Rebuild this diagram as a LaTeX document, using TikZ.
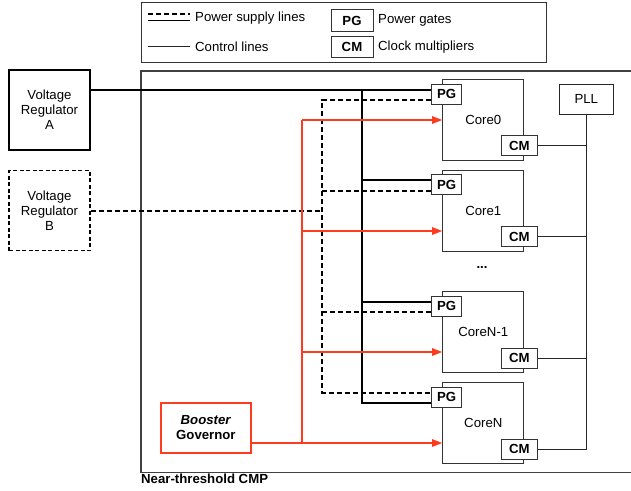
\documentclass[tikz,border=0pt]{standalone}
\usepackage{fontspec}
\setmainfont{Liberation Sans}
\usetikzlibrary{arrows.meta}
\definecolor{govred}{RGB}{255,59,31}
\tikzset{
  every node/.style={font=\fontsize{13.2}{15}\selectfont},
  pwr/.style={line width=1.9pt,black},
  pwrdash/.style={line width=1.9pt,black,dash pattern=on 5pt off 3pt},
  ctrl/.style={line width=0.8pt,black!85},
  redline/.style={line width=1.1pt,color=govred,draw=govred},
  redarrow/.style={redline,-{Triangle[length=10pt,width=7.5pt]}},
  regbox/.style={draw,line width=1.2pt,minimum width=81pt,minimum height=80pt,inner sep=0pt,align=center},
  corebox/.style={draw=black!80,line width=1pt,fill=white,minimum width=81.3pt,minimum height=81pt,inner sep=0pt},
  gatebox/.style={draw=black!80,line width=1pt,fill=white,minimum width=30pt,minimum height=20pt,inner sep=0pt,font=\fontsize{13.2}{15}\selectfont\bfseries},
  mulbox/.style={draw=black!80,line width=1pt,fill=white,minimum width=36pt,minimum height=20pt,inner sep=0pt,font=\fontsize{13.2}{15}\selectfont\bfseries},
  lgbox/.style={draw=black!80,line width=1pt,minimum width=42pt,minimum height=22pt,inner sep=0pt,font=\fontsize{13.2}{15}\selectfont\bfseries},
  lgtext/.style={anchor=west,inner sep=0pt},
}
\begin{document}
\begin{tikzpicture}[x=1pt,y=-1pt]
\useasboundingbox (0,0) rectangle (631,490);
% legend
\draw[black!80,line width=1pt] (141,2.5) rectangle (546,62);
\coordinate (la1) at (148,14); \coordinate (lb1) at (190,14);
\coordinate (la2) at (148,20.5); \coordinate (lb2) at (190,20.5);
\coordinate (la3) at (148,46.5); \coordinate (lb3) at (190,46.5);
\draw[pwrdash,line width=1.6pt] (la1) -- (lb1);
\draw[pwr,line width=1.6pt] (la2) -- (lb2);
\draw[ctrl] (la3) -- (lb3);
\node[lgtext] (lt1) at (195,18) {Power supply lines};
\node[lgtext] (lt2) at (195,47) {Control lines};
\node[lgbox] (lpg) at (352,20.5) {PG};
\node[lgbox,minimum height=21pt] (lcm) at (352,46.5) {CM};
\node[lgtext] (lt3) at (378,20) {Power gates};
\node[lgtext] (lt4) at (378,47) {Clock multipliers};
% CMP box
\draw[black!75,line width=1.4pt] (660,71) -- (141,71) -- (141,472.5) -- (660,472.5);
\node[anchor=north west,inner sep=0pt,font=\fontsize{13.2}{15}\selectfont\bfseries] (cmp) at (141,474) {Near-threshold CMP};
% regulators
\node[regbox] (vra) at (49.5,110) {Voltage\\Regulator\\A};
\node[regbox,dashed,dash pattern=on 4pt off 2.5pt] (vrb) at (49.5,210.5) {Voltage\\Regulator\\B};
% cores
\node[corebox] (c0) at (483.3,119.8) {Core0};
\node[corebox] (c1) at (483.3,210.5) {Core1};
\node[corebox] (cm) at (483.3,332) {CoreN-1};
\node[corebox] (cn) at (483.3,423) {CoreN};
\node[inner sep=0pt,font=\fontsize{13.2}{15}\selectfont\bfseries] (dots) at (482,267.5) {...};
\foreach \c/\t in {c0/79.3,c1/170,cm/291.5,cn/382.5}{
  \node[gatebox] (pg\c) at (446.7,\t+14.7) {PG};
  \node[mulbox] (mu\c) at (519.3,\t+66.5) {CM};
}
% PLL
\node[draw=black!85,line width=1pt,minimum width=54pt,minimum height=30pt,inner sep=0pt] (pll) at (586.3,99.3) {PLL};
% governor
\node[draw=govred,line width=1.8pt,minimum width=90pt,minimum height=50pt,inner sep=0pt,align=center] (gov) at (205.9,427.7) {\textbf{\textit{Booster}}\\\textbf{Governor}};
% thick power lines
\coordinate (tk0) at (361.7,89.8);
\coordinate (tk1) at (361.7,180);
\coordinate (tkm) at (361.7,301.7);
\coordinate (tkn) at (361.7,402.7);
\draw[pwr] (vra.east |- tk0) -- (pgc0.west |- tk0);
\draw[pwr] (tk0) -- (tkn) -- (pgcn.west |- tkn);
\draw[pwr] (tk1) -- (pgc1.west |- tk1);
\draw[pwr] (tkm) -- (pgcm.west |- tkm);
% dashed power lines
\coordinate (ds0) at (322.3,100);
\coordinate (dsb) at (322.3,211);
\coordinate (ds1) at (322.3,190.7);
\coordinate (dsm) at (322.3,311.7);
\coordinate (dsn) at (322.3,392.7);
\draw[pwrdash] (vrb.east |- dsb) -- (dsb);
\draw[pwrdash] (pgc0.west |- ds0) -- (ds0) -- (dsn) -- (pgcn.west |- dsn);
\draw[pwrdash] (ds1) -- (pgc1.west |- ds1);
\draw[pwrdash] (dsm) -- (pgcm.west |- dsm);
% control lines (governor)
\coordinate (rd0) at (302,120);
\coordinate (rd1) at (302,231);
\coordinate (rdm) at (302,352);
\coordinate (rdn) at (302,443);
\draw[redline] (rd0) -- (rdn);
\draw[redarrow] (gov.east |- rdn) -- (cn.west |- rdn);
\draw[redarrow] (rd0) -- (c0.west |- rd0);
\draw[redarrow] (rd1) -- (c1.west |- rd1);
\draw[redarrow] (rdm) -- (cm.west |- rdm);
% clock lines
\draw[ctrl] (pll.south) |- (mucn.east);
\draw[ctrl] (muc0.east) -- (muc0.east -| pll.south);
\draw[ctrl] (muc1.east) -- (muc1.east -| pll.south);
\draw[ctrl] (mucm.east) -- (mucm.east -| pll.south);
\end{tikzpicture}
\end{document}
